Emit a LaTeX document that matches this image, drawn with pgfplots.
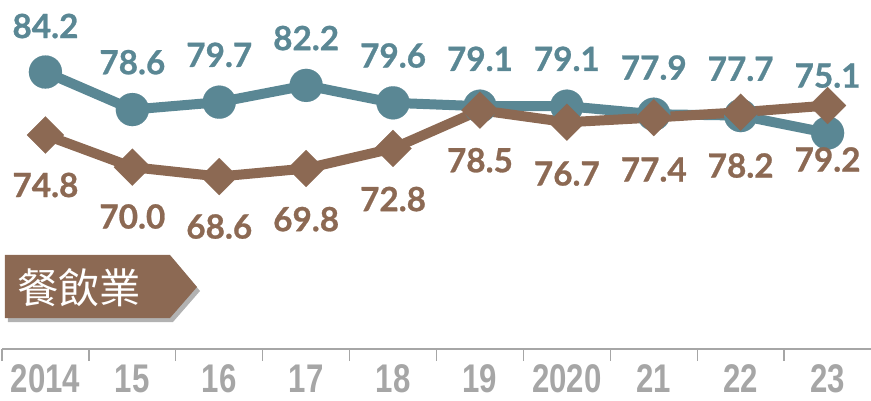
\documentclass[border=0pt]{standalone}
\usepackage{pgfplots}
\usepackage{pgfplotstable}
\pgfplotsset{compat=1.18}
\usepackage{fontspec}
\setmainfont{Lato}
\newfontfamily\labfont[FakeBold=0.8]{Lato}
\newfontfamily\tickfont[FakeStretch=0.78]{Liberation Sans}
\newfontfamily\cjk{Noto Sans CJK TC}
\definecolor{cblue}{HTML}{5A8794}
\definecolor{cbrown}{HTML}{8C6953}
\definecolor{cgray}{HTML}{A6A6A6}
\pgfplotstableread{
x y dy
0 84.2 34.5
1 78.6 35.5
2 79.7 35.5
3 82.2 35.5
4 79.6 35.5
5 79.1 35.5
6 79.1 35.5
7 77.9 35
8 77.7 35
9 75.1 43
}\blue
\pgfplotstableread{
x y dy
0 74.8 -37.5
1 70.0 -37
2 68.6 -37.5
3 69.8 -38
4 72.8 -38
5 78.5 -37.5
6 76.7 -38.5
7 77.4 -39
8 78.2 -40
9 79.2 -40.5
}\brown
\begin{document}
\begin{tikzpicture}
\begin{axis}[
 at={(0,0)}, anchor=south west,
 scale only axis, width=651.75pt, height=261.75pt,
 xmin=-0.5, xmax=9.5, ymin=42.86, ymax=94.95,
 axis x line=bottom, axis y line=none,
 x axis line style={-, cgray, line width=1.2pt},
 xtick={0,...,9},
 xticklabels={2014,15,16,17,18,19,2020,21,22,23},
 major tick length=0pt,
 minor xtick={-0.5,0.5,...,8.5},
 minor tick length=9pt,
 tick align=outside,
 minor tick style={cgray, line width=1pt},
 xticklabel style={font=\tickfont\bfseries\fontsize{30}{30}\selectfont, text=cgray, yshift=-8.5pt},
 clip=false,
 /pgf/number format/assume math mode=true,
 nodes near coords={\pgfmathprintnumber[fixed,fixed zerofill,precision=1]{\pgfplotspointmeta}},
 every node near coord/.append style={font=\labfont\bfseries\fontsize{25}{25}\selectfont, anchor=center, yshift=\dy pt},
 visualization depends on={\thisrow{dy} \as \dy},
]
\addplot[cblue, line width=7.5pt, line join=round, mark=*, mark size=12.4pt,
  mark options={fill=cblue, line width=0.1pt},
  every node near coord/.append style={text=cblue}]
table[x=x, y=y] {\blue};
\addplot[cbrown, line width=7.5pt, line join=round, mark=square*, mark size=9.8pt,
  mark options={fill=cbrown, line width=0.1pt, rotate=45},
  every node near coord/.append style={text=cbrown}]
table[x=x, y=y] {\brown};
\end{axis}
\begin{scope}[xshift=-1.5pt, yshift=261.75pt, x=0.75pt, y=-0.75pt]
\fill[black, opacity=0.3] (8,259) -- (173,259) -- (200,291) -- (173,322) -- (8,322) -- cycle;
\fill[cbrown] (5,255) -- (170,255) -- (197,287) -- (170,318) -- (5,318) -- cycle;
\node[text=white, font=\cjk\fontsize{31}{31}\selectfont, anchor=west, inner sep=0pt] at (17,288) {餐飲業};
\end{scope}
\pgfresetboundingbox
\path[use as bounding box] (-1.5pt,-38.25pt) rectangle (651.75pt,261.75pt);
\end{tikzpicture}
\end{document}
